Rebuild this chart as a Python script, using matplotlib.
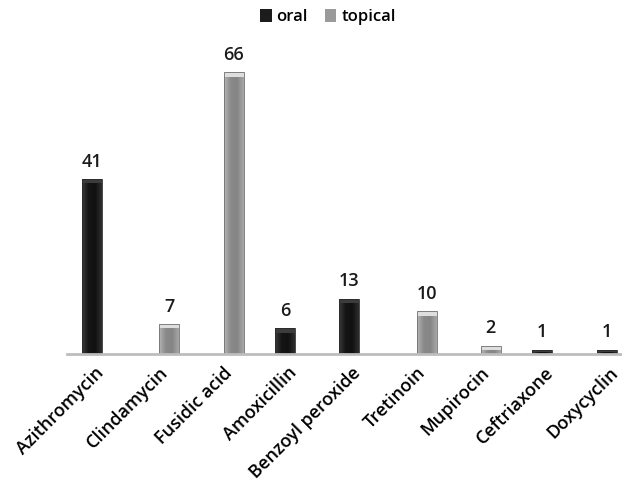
import numpy as np
import matplotlib
matplotlib.use("Agg")
import matplotlib.pyplot as plt
import matplotlib.transforms as mtransforms
from matplotlib.colors import LinearSegmentedColormap

plt.rcParams['font.family'] = ['Open Sans', 'DejaVu Sans']

# ---------------------- data ----------------------
drugs = ["Azithromycin", "Clindamycin", "Fusidic acid", "Amoxicillin",
         "Benzoyl peroxide", "Tretinoin", "Mupirocin", "Ceftriaxone", "Doxycyclin"]
oral = [41, 0, 0, 6, 13, 0, 0, 1, 1]
topical = [0, 7, 66, 0, 0, 10, 2, 0, 0]
# --------------------------------------------------

ORAL_CMAP = LinearSegmentedColormap.from_list("oral", ["#3a3a3a", "#151515", "#111111", "#2e2e2e"])
TOP_CMAP = LinearSegmentedColormap.from_list("top", ["#b5b5b5", "#8a8a8a", "#858585", "#a8a8a8"])


def shaded_bar(ax, xc, h, w, cmap, edge, cap):
    """bar with a horizontal gradient and a light cap, clipped to the bar rectangle"""
    bar = ax.bar(xc, h, w, color="none", edgecolor=edge, linewidth=0.6, zorder=3)[0]
    grad = np.linspace(0, 1, 64).reshape(1, -1)
    im = ax.imshow(grad, cmap=cmap, aspect="auto", extent=(xc - w / 2, xc + w / 2, 0, h),
                   zorder=2, interpolation="bicubic")
    im.set_clip_path(bar)
    ax.bar(xc, min(1.0, h * 0.5), w, bottom=h - min(1.0, h * 0.5), color=cap,
           linewidth=0, zorder=2.5)


fig = plt.figure(figsize=(6.22, 4.98), dpi=100)
ax = fig.add_axes([0.108, 0.289, 0.892, 0.60])

x = np.arange(len(drugs))
w = 0.31
off = 0.1

for xi, v in zip(x, oral):
    if v > 0:
        shaded_bar(ax, xi - off, v, w, ORAL_CMAP, "#2a2a2a", "#3c3c3c")
        ax.text(xi - off, v + 2, str(v), ha="center", va="bottom", fontsize=13,
                fontweight="semibold", color="#1a1a1a")
for xi, v in zip(x, topical):
    if v > 0:
        shaded_bar(ax, xi + off, v, w, TOP_CMAP, "#707070", "#dedede")
        ax.text(xi + off, v + 2, str(v), ha="center", va="bottom", fontsize=13,
                fontweight="semibold", color="#1a1a1a")

# legend proxies
ax.bar(0, 0, 0, color="#1c1c1c", label="oral")
ax.bar(0, 0, 0, color="#9a9a9a", label="topical")
ax.legend(loc="upper center", bbox_to_anchor=(0.47, 1.205), ncol=2, frameon=False,
          prop={"size": 12, "weight": "semibold"}, handlelength=0.7, handleheight=0.8,
          handletextpad=0.3, columnspacing=1.0)

ax.set_xlim(-0.49, 8.14)
ax.set_ylim(0, 70)
ax.set_yticks([])
ax.set_xticks(x)
ax.set_xticklabels(drugs, rotation=45, ha="right", rotation_mode="anchor", fontsize=13,
                   fontweight="semibold")
ax.tick_params(axis="x", length=0, pad=7)
shift = mtransforms.ScaledTranslation(-4 / 100, 0, fig.dpi_scale_trans)
for lab in ax.get_xticklabels():
    lab.set_transform(lab.get_transform() + shift)
for s in ["top", "right", "left"]:
    ax.spines[s].set_visible(False)
ax.spines["bottom"].set_color("#bdbdbd")
ax.spines["bottom"].set_linewidth(2)
ax.spines["bottom"].set_zorder(4)

fig.savefig("out.png", dpi=100)
